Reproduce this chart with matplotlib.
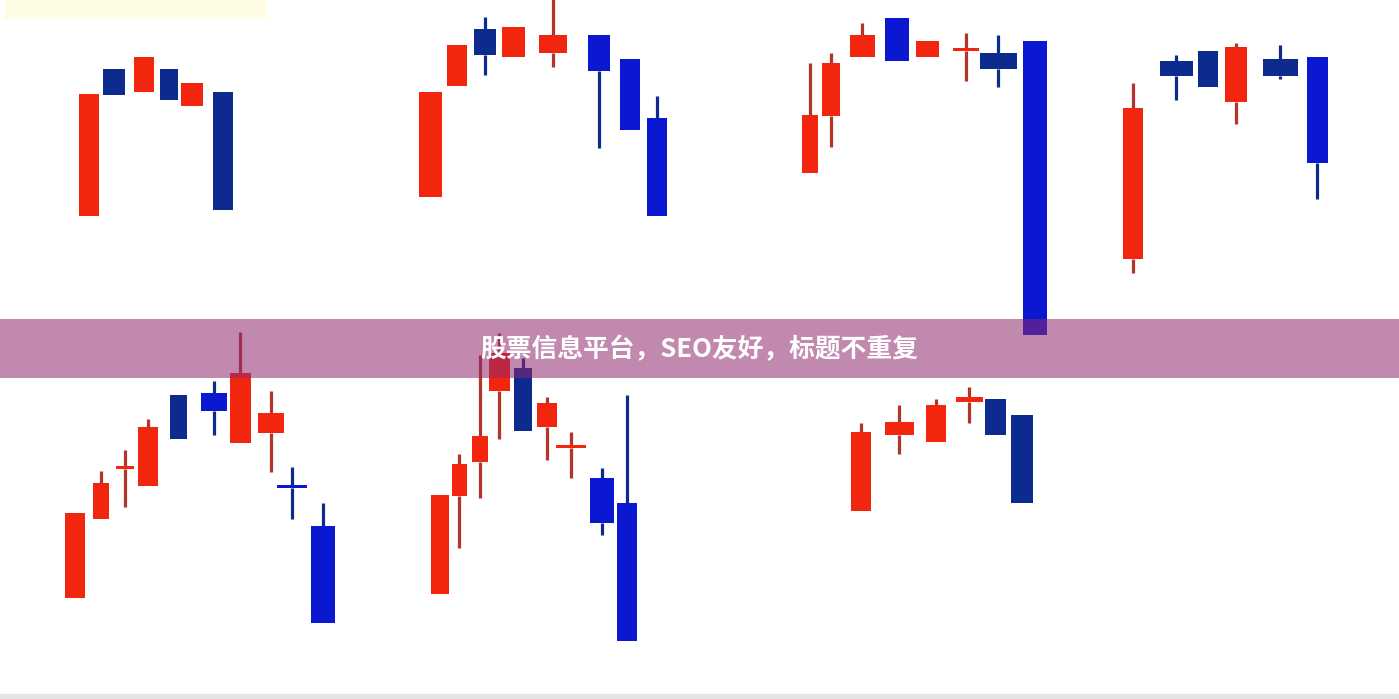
import matplotlib
matplotlib.use("Agg")
from matplotlib import pyplot as plt
from matplotlib.patches import Rectangle

plt.rcParams['font.family'] = ['Noto Sans CJK SC', 'DejaVu Sans']

# Данные свечей: open, high, low, close для каждой группы (7 групп)
g1_open = [484, 631, 608, 631, 594, 608]
g1_high = [606, 631, 643, 631, 617, 608]
g1_low = [484, 605, 608, 600, 594, 490]
g1_close = [606, 605, 643, 600, 617, 490]

g2_open = [503, 614, 671, 643, 647, 665, 641, 582]
g2_high = [608, 655, 683, 673, 710, 665, 641, 604]
g2_low = [503, 614, 625, 643, 633, 552, 570, 484]
g2_close = [608, 655, 645, 673, 665, 629, 570, 484]

g3_open = [527, 584, 643, 682, 643, 649, 647, 659]
g3_high = [637, 647, 677, 682, 659, 667, 665, 659]
g3_low = [527, 553, 643, 639, 643, 619, 613, 365]
g3_close = [585, 637, 665, 639, 659, 652, 631, 365]

g4_open = [441, 639, 649, 598, 641, 643]
g4_high = [617, 645, 649, 657, 655, 643]
g4_low = [427, 600, 613, 576, 621, 501]
g4_close = [592, 624, 613, 653, 624, 537]

g5_open = [102, 181, 231, 214, 305, 307, 257, 267, 215, 174]
g5_high = [187, 229, 250, 281, 305, 319, 368, 309, 233, 197]
g5_low = [102, 181, 193, 214, 261, 265, 257, 228, 181, 77]
g5_close = [187, 217, 233, 273, 261, 289, 327, 287, 212, 77]

g6_open = [106, 204, 238, 309, 332, 273, 252, 222, 197]
g6_high = [205, 246, 345, 367, 342, 303, 268, 232, 305]
g6_low = [106, 152, 202, 261, 269, 240, 222, 165, 59]
g6_close = [205, 236, 264, 347, 269, 297, 255, 177, 59]

g7_open = [189, 265, 258, 298, 301, 285]
g7_high = [277, 295, 301, 313, 301, 285]
g7_low = [189, 246, 258, 277, 265, 197]
g7_close = [268, 278, 295, 303, 265, 197]

title_text = "股票信息平台，SEO友好，标题不重复"

# Раскладка: центры свечей, ширина тел, тон падающих свечей (n - тёмно-синий, b - синий)
groups = [
    (g1_open, g1_high, g1_low, g1_close, [89, 114, 144, 169, 192, 223], [20, 22, 20, 18, 22, 20], "nnnnnn"),
    (g2_open, g2_high, g2_low, g2_close, [430, 457, 485, 513, 553, 599, 630, 657], [23, 20, 22, 23, 28, 22, 20, 20], "bbnbbbbb"),
    (g3_open, g3_high, g3_low, g3_close, [810, 831, 862, 897, 927, 966, 998, 1035], [16, 18, 25, 24, 23, 26, 37, 24], "bbbbbbnb"),
    (g4_open, g4_high, g4_low, g4_close, [1133, 1176, 1208, 1236, 1280, 1317], [20, 33, 20, 22, 35, 21], "nnnnnb"),
    (g5_open, g5_high, g5_low, g5_close, [75, 101, 125, 148, 178, 214, 240, 271, 292, 323], [20, 16, 18, 20, 17, 26, 21, 26, 30, 24], "bbbbnbbbbb"),
    (g6_open, g6_high, g6_low, g6_close, [440, 459, 480, 499, 523, 547, 571, 602, 627], [18, 15, 16, 21, 18, 20, 30, 24, 20], "bbbbnbbbb"),
    (g7_open, g7_high, g7_low, g7_close, [861, 899, 936, 969, 995, 1022], [20, 29, 20, 27, 21, 22], "bbbbnn"),
]

RED = "#f2260f"
RED_WICK = "#b4342a"
NAVY = "#0d2a8e"
BLUE = "#0a18d2"

fig = plt.figure(figsize=(13.99, 6.99), dpi=100)
ax = fig.add_axes([0, 0, 1, 1])
ax.set_xlim(0, 1399)
ax.set_ylim(1, 700)
ax.axis("off")

for o, h, l, c, xs, ws, tone in groups:
    for i in range(len(o)):
        up = c[i] >= o[i]
        if up:
            body, wick = RED, RED_WICK
        else:
            body = NAVY if tone[i] == "n" else BLUE
            wick = NAVY
        top = max(o[i], c[i])
        bot = min(o[i], c[i])
        # тени рисуем только вне тела
        if h[i] > top:
            ax.vlines(xs[i], top, h[i], color=wick, linewidth=2.3, zorder=1)
        if l[i] < bot:
            ax.vlines(xs[i], l[i], bot, color=wick, linewidth=2.3, zorder=1)
        ax.bar(xs[i], max(top - bot, 3), bottom=bot, width=ws[i],
               color=body, linewidth=0, zorder=2)

# Бледный жёлтый водяной знак сверху слева и серая полоса снизу
ax.add_patch(Rectangle((5, 682), 260, 18, color="#fffce6", zorder=0))
ax.add_patch(Rectangle((0, 0), 1399, 6, color="#e4e4e4", zorder=0))

# Полупрозрачная плашка с заголовком
ax.axhspan(322, 381, color=(145 / 255, 40 / 255, 110 / 255), alpha=0.55, zorder=3, lw=0)
ax.text(699, 350, title_text, color="white", fontsize=18.5, fontweight="bold",
        ha="center", va="center", zorder=4)

fig.savefig("out.png", dpi=100)
